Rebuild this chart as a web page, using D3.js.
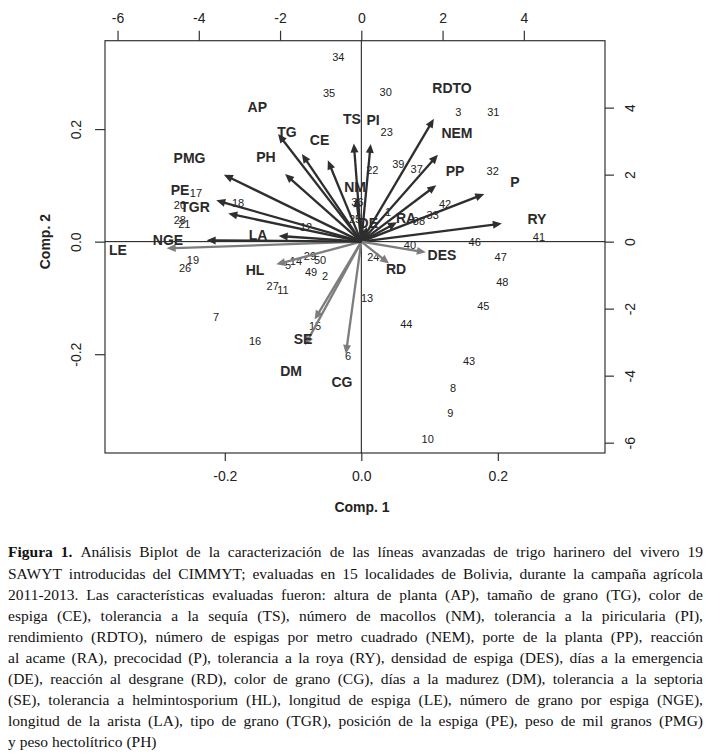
<!DOCTYPE html>
<html><head><meta charset="utf-8">
<script src="https://cdn.jsdelivr.net/npm/d3@7"></script>
<style>body{margin:0;background:#fff} svg{display:block}</style>
</head><body>
<svg id="c" width="712" height="753"></svg>
<script>
// ---- Data ----
const obsLabels = ["1","2","3","5","6","7","8","9","10","11","12","13","14","15","16","17","18","19","20","21","22","23","24","25","26","27","28","29","30","31","32","33","34","35","36","37","38","39","40","41","42","43","44","45","46","47","48","49","50"];
const obsComp1 = [0.0391,-0.0532,0.1421,-0.1074,-0.0195,-0.2129,0.1343,0.1304,0.0973,-0.1147,-0.0810,0.0084,-0.0957,-0.0678,-0.1557,-0.2422,-0.1806,-0.2466,-0.2657,-0.2593,0.0161,0.0372,0.0176,-0.0092,-0.2583,-0.1298,-0.2659,-0.0752,0.0357,0.1934,0.1925,0.1046,-0.0337,-0.0473,-0.0056,0.0812,0.0845,0.0542,0.0713,0.2603,0.1226,0.1578,0.0659,0.1787,0.1661,0.2042,0.2066,-0.0737,-0.0605];
const obsComp2 = [0.0526,-0.0620,0.2308,-0.0416,-0.2032,-0.1339,-0.2606,-0.3050,-0.3507,-0.0860,0.0259,-0.1011,-0.0345,-0.1499,-0.1766,0.0858,0.0686,-0.0327,0.0650,0.0313,0.1272,0.1942,-0.0279,0.0401,-0.0469,-0.0789,0.0384,-0.0265,0.2663,0.2308,0.1254,0.0473,0.3285,0.2635,0.0704,0.1284,0.0366,0.1373,-0.0069,0.0087,0.0659,-0.2121,-0.1469,-0.1139,-0.0002,-0.0268,-0.0723,-0.0545,-0.0336];

const varNames = ["AP","TG","CE","TS","NM","PI","RDTO","NEM","PP","RA","P","RY","DES","DE","RD","CG","DM","SE","HL","LE","NGE","LA","TGR","PE","PMG","PH"];
const varComp1 = [-2.560,-1.829,-1.029,-0.230,-0.155,0.288,2.232,2.355,2.306,1.100,3.783,4.324,1.986,0.172,0.854,-0.475,-1.730,-1.435,-2.616,-5.988,-4.758,-2.542,-4.093,-4.462,-4.228,-2.346];
const varComp2 = [4.020,3.272,3.033,3.660,1.630,3.645,4.585,3.242,2.107,0.719,1.779,0.675,-0.400,0.546,-0.818,-4.191,-3.863,-2.907,-0.848,-0.251,0.050,0.212,1.048,1.540,2.496,2.525];

const bottomTicks = [-0.2, 0.0, 0.2];
const leftTicks = [-0.2, 0.0, 0.2];
const topTicks = [-6, -4, -2, 0, 2, 4];
const rightTicks = [-6, -4, -2, 0, 2, 4];
const xTitle = "Comp. 1";
const yTitle = "Comp. 2";

const captionBold = "Figura 1.";
const captionLines = [
 "Figura 1. Análisis Biplot de la caracterización de las líneas avanzadas de trigo harinero del vivero 19",
 "SAWYT introducidas del CIMMYT; evaluadas en 15 localidades de Bolivia, durante la campaña agrícola",
 "2011-2013.  Las características evaluadas fueron: altura de planta (AP), tamaño de grano (TG), color de",
 "espiga (CE), tolerancia a la sequía (TS), número de macollos (NM), tolerancia a la piricularia (PI),",
 "rendimiento (RDTO), número de espigas por metro cuadrado (NEM), porte de la planta (PP), reacción",
 "al acame (RA), precocidad (P), tolerancia a la roya (RY), densidad de espiga (DES), días a la emergencia",
 "(DE), reacción al desgrane (RD), color de grano (CG), días a la madurez (DM), tolerancia a la septoria",
 "(SE), tolerancia a helmintosporium (HL), longitud de espiga (LE), número de grano por espiga (NGE),",
 "longitud de la arista (LA), tipo de grano (TGR), posición de la espiga (PE), peso de mil granos (PMG)",
 "y peso hectolítrico (PH)"
];

// ---- Layout ----
const L = 105, R = 605, T = 40.7, B = 453;
const lim = [-0.3755, 0.357];
const ratio = 16.8;
const x = d3.scaleLinear().domain(lim).range([L, R]);
const y = d3.scaleLinear().domain(lim).range([B, T]);
const x2 = d3.scaleLinear().domain(lim.map(v => v * ratio)).range([L, R]);
const y2 = d3.scaleLinear().domain(lim.map(v => v * ratio)).range([B, T]);

const svg = d3.select("#c");
const sans = "'Liberation Sans', Arial, Helvetica, sans-serif";
const ink = "#222";

// box
svg.append("rect").attr("x", L).attr("y", T).attr("width", R - L).attr("height", B - T)
  .attr("fill", "none").attr("stroke", "#333").attr("stroke-width", 1.2);

// axes
function styleAxis(g) {
  g.select(".domain").remove();
  g.selectAll(".tick line").attr("stroke", "#333").attr("stroke-width", 1.2);
  g.selectAll(".tick text").attr("fill", ink).style("font-family", sans).style("font-size", "14px");
}
const fmt1 = d => d.toFixed(1);
const fmt0 = d => String(d);

const gB = svg.append("g").attr("transform", `translate(0,${B})`)
  .call(d3.axisBottom(x).tickValues(bottomTicks).tickFormat(fmt1).tickSize(8).tickPadding(10));
styleAxis(gB);

const gT = svg.append("g").attr("transform", `translate(0,${T})`)
  .call(d3.axisTop(x2).tickValues(topTicks).tickFormat(fmt0).tickSize(10).tickPadding(8));
styleAxis(gT);

const gL = svg.append("g").attr("transform", `translate(${L},0)`)
  .call(d3.axisLeft(y).tickValues(leftTicks).tickFormat(fmt1).tickSize(10));
styleAxis(gL);
gL.selectAll(".tick text").attr("transform", "rotate(-90)").attr("x", 0).attr("y", -29)
  .attr("dy", "0.35em").attr("text-anchor", "middle");

const gR = svg.append("g").attr("transform", `translate(${R},0)`)
  .call(d3.axisRight(y2).tickValues(rightTicks).tickFormat(fmt0).tickSize(9));
styleAxis(gR);
gR.selectAll(".tick text").attr("transform", "rotate(-90)").attr("x", 0).attr("y", 25)
  .attr("dy", "0.35em").attr("text-anchor", "middle");

// axis titles
svg.append("text").attr("x", (L + R) / 2 + 7).attr("y", 507).attr("dy", "0.35em")
  .attr("text-anchor", "middle").attr("fill", ink).style("font-family", sans)
  .style("font-size", "14px").style("font-weight", "bold").text(xTitle);
svg.append("text").attr("transform", `translate(45,${y(0)}) rotate(-90)`).attr("dy", "0.35em")
  .attr("text-anchor", "middle").attr("fill", ink).style("font-family", sans)
  .style("font-size", "14px").style("font-weight", "bold").text(yTitle);

// zero lines
svg.append("line").attr("x1", L).attr("x2", R).attr("y1", y(0)).attr("y2", y(0))
  .attr("stroke", "#111").attr("stroke-width", 1);
svg.append("line").attr("x1", x(0)).attr("x2", x(0)).attr("y1", T).attr("y2", B)
  .attr("stroke", "#111").attr("stroke-width", 1);

// observations (numbers)
const obs = obsLabels.map((lab, i) => ({lab, c1: obsComp1[i], c2: obsComp2[i]}));
svg.append("g").selectAll("text").data(obs).join("text")
  .attr("x", d => x(d.c1)).attr("y", d => y(d.c2)).attr("dy", "0.35em")
  .attr("text-anchor", "middle").attr("fill", ink)
  .style("font-family", sans).style("font-size", "11px").text(d => d.lab);

// variable arrows
const vars = varNames.map((n, i) => ({n, c1: varComp1[i], c2: varComp2[i]}));
const x0 = x2(0), y0 = y2(0);
const gA = svg.append("g");
vars.forEach(d => {
  const tx = x2(d.c1 * 0.8), ty = y2(d.c2 * 0.8);
  const col = d.c2 < 0 ? "#7d7d7d" : "#2e2e2e";
  const dx = tx - x0, dy = ty - y0, len = Math.hypot(dx, dy);
  const ux = dx / len, uy = dy / len;
  const hl = 9, hw = 4;
  const bx = tx - ux * hl, by = ty - uy * hl;
  gA.append("line").attr("x1", x0).attr("y1", y0).attr("x2", bx + ux * 1).attr("y2", by + uy * 1)
    .attr("stroke", col).attr("stroke-width", 2.3);
  gA.append("path")
    .attr("d", `M${tx},${ty}L${bx - uy * hw},${by + ux * hw}L${bx + uy * hw},${by - ux * hw}Z`)
    .attr("fill", col);
});
svg.append("g").selectAll("text").data(vars).join("text")
  .attr("x", d => x2(d.c1)).attr("y", d => y2(d.c2)).attr("dy", "0.36em")
  .attr("text-anchor", "middle").attr("fill", "#2a2a2a")
  .style("font-family", sans).style("font-size", "14px").style("font-weight", "bold")
  .text(d => d.n);

// caption (justified, horizontally condensed serif)
const serif = "'Liberation Serif', 'Times New Roman', serif";
const capL = 8, capR = 703, capW = capR - capL;
const capY0 = 552, capDY = 21.1;
const fs = 15.5;
const meas = svg.append("text").style("font-family", serif).attr("x", -1000).attr("y", -1000);
function wordWidth(w, bold) {
  meas.style("font-size", fs + "px").style("font-weight", bold ? "bold" : "normal").text(w);
  return meas.node().getComputedTextLength();
}
function lineWords(line, li) {
  const words = line.split(/ +/);
  const boldCount = li === 0 ? captionBold.split(" ").length : 0;
  return words.map((w, k) => ({w, bold: k < boldCount}));
}
let maxNeed = 0;
captionLines.forEach((line, li) => {
  const ws = lineWords(line, li);
  const tot = d3.sum(ws, o => wordWidth(o.w, o.bold)) + (ws.length - 1) * fs * 0.2;
  maxNeed = Math.max(maxNeed, tot);
});
const sx = Math.min(1, capW / maxNeed);
const W = capW / sx;
const gC = svg.append("g").style("font-family", serif).attr("fill", "#111");
captionLines.forEach((line, li) => {
  const ws = lineWords(line, li);
  const widths = ws.map(o => wordWidth(o.w, o.bold));
  const last = li === captionLines.length - 1;
  const gap = last ? fs * 0.25 : (W - d3.sum(widths)) / (ws.length - 1);
  let cx = 0;
  const t = gC.append("text")
    .attr("transform", `translate(${capL},${capY0 + li * capDY}) scale(${sx},1)`)
    .attr("dy", "0.35em").style("font-size", fs + "px");
  ws.forEach((o, k) => {
    t.append("tspan").attr("x", cx).style("font-weight", o.bold ? "bold" : "normal").text(o.w);
    cx += widths[k] + gap;
  });
});
meas.remove();
</script>
</body></html>
